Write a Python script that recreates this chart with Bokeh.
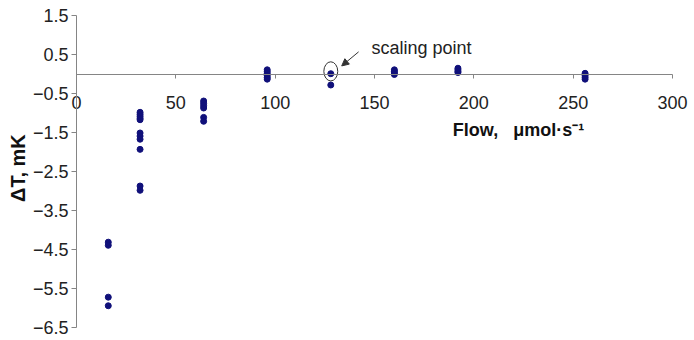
import math
from bokeh.plotting import figure
from bokeh.models import FixedTicker, Label, Arrow, NormalHead, Range1d
from bokeh.embed import file_html
from bokeh.resources import INLINE

# ---- data ----
flows = [16, 32, 64, 96, 128, 160, 192, 256]
dT_16 = [-4.30, -4.38, -5.71, -5.93]
dT_32 = [-0.97, -1.02, -1.07, -1.12, -1.16, -1.50, -1.58, -1.66, -1.92, -2.86, -2.97]
dT_64 = [-0.68, -0.74, -0.80, -0.86, -1.10, -1.20]
dT_96 = [0.12, 0.07, 0.02, -0.03, -0.08, -0.12]
dT_128 = [0.02, -0.27]
dT_160 = [0.12, 0.08, 0.04, 0.00]
dT_192 = [0.16, 0.12, 0.08, 0.05]
dT_256 = [0.03, -0.02, -0.07, -0.12]
series = [dT_16, dT_32, dT_64, dT_96, dT_128, dT_160, dT_192, dT_256]

x_ticks = [0, 50, 100, 150, 200, 250, 300]
y_ticks = [1.5, 0.5, -0.5, -1.5, -2.5, -3.5, -4.5, -5.5, -6.5]

scaling_flow = 128
scaling_dT = 0.08
x_title = "Flow,\u00a0\u00a0\u00a0\u03bcmol\u00b7s\u207b\u00b9"
y_title = "\u0394T, mK"
note = "scaling point"

xs, ys = [], []
for f, vals in zip(flows, series):
    xs += [f] * len(vals)
    ys += vals

FONT = "Liberation Sans"
AXIS_GREY = "#858585"
DARK = "#333333"

# both axes cross at the origin; the frame fills the whole figure
p = figure(width=694, height=340, output_backend="svg", toolbar_location=None,
           x_range=Range1d(-38.25, 311.07), y_range=Range1d(-6.821, 1.897),
           min_border_left=0, min_border_right=0, min_border_top=0, min_border_bottom=0)
p.outline_line_color = None
p.grid.visible = False
p.background_fill_color = "white"

xa = p.xaxis[0]
xa.fixed_location = 0
xa.bounds = (0, 300)
xa.ticker = FixedTicker(ticks=x_ticks)
xa.axis_line_color = AXIS_GREY
xa.major_tick_line_color = AXIS_GREY
xa.major_tick_out = 4
xa.major_tick_in = 0
xa.minor_tick_line_color = None
xa.major_label_standoff = 18
xa.major_label_text_font = FONT
xa.major_label_text_font_size = "18px"
xa.major_label_text_color = "#222222"

ya = p.yaxis[0]
ya.fixed_location = 0
ya.bounds = (-6.5, 1.5)
ya.ticker = FixedTicker(ticks=y_ticks)
ya.axis_line_color = AXIS_GREY
ya.major_tick_line_color = AXIS_GREY
ya.major_tick_out = 5
ya.major_tick_in = 0
ya.minor_tick_line_color = None
ya.major_label_standoff = 3
ya.major_label_text_font = FONT
ya.major_label_text_font_size = "18px"
ya.major_label_text_color = "#222222"

p.scatter(xs, ys, size=6, color="#10107a")

p.ellipse(x=[scaling_flow], y=[scaling_dT], width=7, height=0.49,
          fill_color=None, line_color=DARK, line_width=1)

p.add_layout(Arrow(end=NormalHead(size=7, fill_color=DARK, line_color=DARK),
                   x_start=142, y_start=0.58, x_end=133.5, y_end=0.22,
                   line_color=DARK, line_width=1))
p.add_layout(Label(x=148.5, y=0.667, text=note, text_font=FONT, text_font_size="18px",
                   text_baseline="middle", text_color="#222222"))
p.add_layout(Label(x=222.5, y=-1.436, text=x_title, text_font=FONT, text_font_size="18px",
                   text_font_style="bold", text_align="center", text_baseline="middle",
                   text_color="#111111"))
p.add_layout(Label(x=-29.2, y=-2.4, text=y_title, angle=math.pi / 2, text_font=FONT,
                   text_font_size="20px", text_font_style="bold", text_align="center",
                   text_baseline="middle", text_color="#111111"))

open("out.html", "w").write(file_html(p, INLINE))
